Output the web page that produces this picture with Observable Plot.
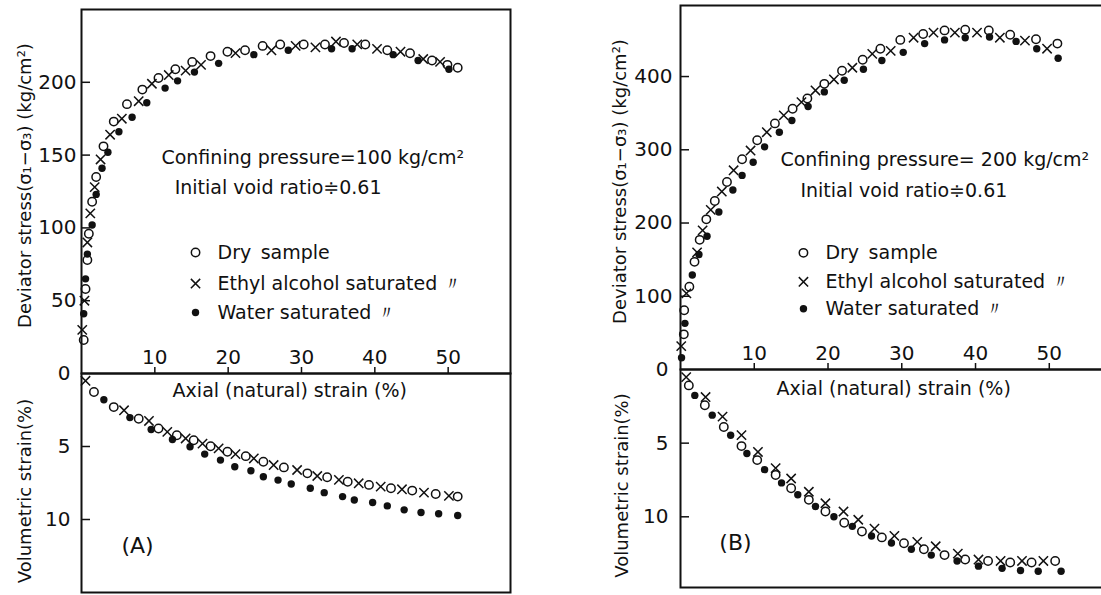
<!DOCTYPE html>
<html><head><meta charset="utf-8">
<script src="https://cdn.jsdelivr.net/npm/d3@7"></script>
<script src="https://cdn.jsdelivr.net/npm/@observablehq/plot@0.6"></script>
<style>
html,body{margin:0;padding:0;background:#fff;overflow:hidden;width:1101px;height:595px;}
#root{position:relative;width:1101px;height:595px;overflow:hidden;background:#fff;}
.sub{position:absolute;}
.sub svg{max-width:none !important;}
</style></head><body><div id="root"></div>
<script>
// ---------- data (axial strain %, value) ----------
// Panel A : confining pressure 100 kg/cm2
const aStressDry = [[0.3,23],[0.55,58],[0.8,78],[1.0,96],[1.45,118],[2.0,135],[3.0,156],[4.4,173],[6.2,185],[8.3,195],[10.5,203],[12.8,209],[15.1,214],[17.6,218],[19.9,221],[22.3,222],[24.7,225],[27.1,226],[30.3,226],[33.2,226],[35.8,227],[38.7,226],[41.7,222],[44.8,220],[47.8,215],[49.9,212],[51.3,210]];
const aStressEthyl = [[0.1,30],[0.4,50],[0.8,90],[1.2,110],[1.8,128],[2.6,147],[3.9,164],[5.5,175],[7.8,187],[9.6,199],[11.9,205],[14.2,208],[16.3,212],[21.0,220],[25.9,222],[29.2,225],[31.9,224],[34.7,228],[37.6,226],[40.3,223],[43.5,221],[46.6,216],[48.9,214]];
const aStressWater = [[0.3,41],[0.55,65],[0.8,82],[1.45,102],[2.0,123],[2.8,141],[3.6,152],[5.1,166],[6.9,176],[8.9,186],[11.4,196],[13.1,201],[15.4,207],[18.7,213],[23.5,219],[28.2,222],[34.1,223],[36.9,223],[42.5,219],[45.9,215],[50.1,209]];
const aVolDry = [[1.7,1.27],[4.4,2.3],[7.8,3.1],[10.5,3.77],[13.0,4.23],[15.3,4.57],[17.6,4.98],[19.9,5.36],[22.4,5.66],[24.8,6.04],[27.6,6.43],[30.8,6.84],[33.5,7.11],[36.3,7.41],[39.2,7.63],[42.2,7.86],[45.1,8.02],[48.3,8.25],[51.3,8.43]];
const aVolEthyl = [[0.55,0.5],[5.8,2.52],[9.2,3.25],[11.7,4.0],[14.2,4.45],[16.5,4.8],[18.7,5.13],[21.0,5.52],[23.5,5.82],[26.2,6.27],[29.4,6.61],[32.15,7.02],[35.1,7.29],[37.8,7.52],[40.8,7.75],[43.7,7.93],[46.7,8.16],[50.1,8.38]];
const aVolWater = [[3.05,1.8],[6.6,3.02],[9.5,3.84],[12.4,4.52],[14.8,5.02],[16.8,5.52],[18.95,5.93],[20.9,6.39],[23.1,6.66],[24.8,7.07],[26.8,7.3],[28.6,7.57],[31.2,7.86],[33.1,8.16],[35.6,8.43],[37.2,8.66],[39.7,8.84],[41.7,9.07],[44.0,9.34],[46.3,9.52],[48.7,9.61],[51.3,9.73]];
// Panel B : confining pressure 200 kg/cm2
const bStressDry = [[0.45,48],[0.5,81],[1.2,113],[1.9,147],[2.6,177],[3.5,205],[4.65,230],[6.3,256],[8.35,287],[10.4,313],[12.8,336],[15.2,356],[17.2,370],[19.5,390],[21.9,408],[24.7,423],[27.1,438],[29.8,450],[32.9,458],[35.8,463],[38.6,464],[41.8,463],[44.7,457],[48.2,451],[51.1,445]];
const bStressEthyl = [[0.1,32],[0.8,104],[2.25,160],[3.0,190],[4.1,218],[5.6,243],[7.2,272],[9.5,299],[11.7,324],[14.0,347],[16.4,365],[18.3,381],[20.8,396],[23.3,412],[26.0,431],[28.5,435],[31.6,453],[34.3,460],[37.2,460],[40.2,460],[43.3,453],[46.7,449],[49.7,438]];
const bStressWater = [[0.14,16],[0.6,63],[1.6,129],[2.5,157],[3.6,182],[5.2,215],[7.1,245],[8.35,265],[9.85,283],[11.4,304],[13.4,324],[15.1,340],[17.3,359],[19.5,379],[22.2,395],[24.8,410],[27.3,422],[30.2,433],[33.1,445],[35.8,450],[38.6,453],[41.9,454],[45.5,448],[48.3,438],[51.2,425]];
const bVolDry = [[1.13,1.08],[3.3,2.43],[5.87,3.9],[8.27,5.2],[10.4,6.15],[12.9,7.16],[15.0,8.06],[17.4,8.85],[19.65,9.64],[22.2,10.4],[24.6,11.0],[27.3,11.4],[30.3,11.8],[33.0,12.2],[35.8,12.6],[38.6,12.9],[41.7,13.0],[44.7,13.1],[47.6,13.1],[50.8,13.0]];
const bVolEthyl = [[0.77,0.52],[3.4,1.87],[5.7,3.2],[8.27,4.46],[10.5,5.6],[12.9,6.7],[15.0,7.4],[17.4,8.3],[19.65,9.08],[22.1,9.64],[24.1,10.2],[26.3,10.8],[29.0,11.3],[32.1,11.7],[34.6,12.0],[37.6,12.5],[40.4,12.9],[43.4,13.0],[46.3,13.0],[49.2,13.0]];
const bVolWater = [[1.94,1.76],[4.3,3.1],[6.8,4.46],[9.0,5.7],[11.4,6.8],[13.7,7.7],[15.9,8.5],[18.3,9.3],[20.8,10.0],[23.3,10.65],[25.9,11.3],[28.6,11.78],[31.3,12.2],[34.0,12.6],[37.5,13.0],[40.4,13.35],[43.6,13.5],[46.1,13.65],[48.5,13.7],[51.6,13.7]];

// ---------- tick values & labels ----------
const xTicks = [10, 20, 30, 40, 50];
const aStressTicks = [50, 100, 150, 200];
const bStressTicks = [100, 200, 300, 400];
const volTicks = [0, 5, 10];
const stressLabel = "Deviator stress(σ₁−σ₃) (kg/cm²)";
const volLabel = "Volumetric strain(%)";
const xLabel = "Axial (natural) strain (%)";
const legendLabels = ["Dry\u2002sample", "Ethyl alcohol saturated 〃", "Water saturated 〃"];
const aNotes = ["Confining pressure=100 kg/cm²", "Initial void ratio≑0.61"];
const bNotes = ["Confining pressure= 200 kg/cm²", "Initial void ratio≑0.61"];

// ---------- drawing ----------
const FONT = "'DejaVu Sans', sans-serif";
const INK = "#111";
const root = document.getElementById("root");

function place(node, left, top, width, height) {
  const d = document.createElement("div");
  d.className = "sub";
  d.style.left = left + "px";
  d.style.top = top + "px";
  d.style.width = width + "px";
  d.style.height = height + "px";
  d.appendChild(node);
  root.appendChild(d);
}

const X = d => d[0], Y = d => d[1];
function seriesMarks(dry, ethyl, water) {
  return [
    Plot.dot(water, {x: X, y: Y, r: 3.7, fill: INK, stroke: "none"}),
    Plot.dot(dry, {x: X, y: Y, r: 4.2, fill: "none", stroke: INK, strokeWidth: 1.5}),
    Plot.dot(ethyl, {x: X, y: Y, r: 4.3, symbol: "times", stroke: INK, strokeWidth: 1.5})
  ];
}

function upper(cfg) {
  const m = [
    Plot.frame({stroke: INK, strokeWidth: 2}),
    Plot.ruleY(cfg.yTicks, {y: d => d, x1: 0, x2: 0, insetRight: -9, stroke: INK, strokeWidth: 1.5}),
    Plot.text(cfg.yTicks, {y: d => d, x: 0, dx: -cfg.pad, textAnchor: "end", text: d => `${d}`, fontSize: 20, fill: INK}),
    Plot.ruleX(xTicks, {x: d => d, y1: 0, y2: 0, insetBottom: 6, stroke: INK, strokeWidth: 1.5}),
    Plot.text(xTicks, {x: d => d, y: 0, dy: -16, text: d => `${d}`, fontSize: 20, fill: INK}),
    Plot.text([stressLabel], {frameAnchor: "left", textAnchor: "middle", dx: cfg.labelDx, dy: cfg.labelDy, rotate: -90, text: d => d, fontSize: 18, fill: INK}),
    Plot.text([cfg.notes[0]], {x: cfg.note1[0], y: cfg.note1[1], text: d => d, textAnchor: "start", fontSize: 19, fill: INK}),
    Plot.text([cfg.notes[1]], {x: cfg.note2[0], y: cfg.note2[1], text: d => d, textAnchor: "start", fontSize: 19, fill: INK}),
    Plot.text(legendLabels, {x: cfg.legText, y: (d, i) => cfg.legRows[i], text: d => d, textAnchor: "start", fontSize: 19, fill: INK}),
    Plot.dot([0], {x: cfg.legMark, y: cfg.legRows[0], r: 4.2, fill: "none", stroke: INK, strokeWidth: 1.5}),
    Plot.dot([0], {x: cfg.legMark, y: cfg.legRows[1], r: 4.3, symbol: "times", stroke: INK, strokeWidth: 1.5}),
    Plot.dot([0], {x: cfg.legMark, y: cfg.legRows[2], r: 3.7, fill: INK}),
    ...seriesMarks(cfg.dry, cfg.ethyl, cfg.water)
  ];
  return Plot.plot({
    width: cfg.width, height: cfg.height,
    marginLeft: cfg.mL, marginRight: cfg.mR, marginTop: cfg.mT, marginBottom: cfg.mB,
    x: {domain: cfg.xDomain, axis: null},
    y: {domain: cfg.yDomain, axis: null},
    style: {fontFamily: FONT, background: "transparent", overflow: "visible", color: INK, maxWidth: "none"},
    marks: m
  });
}

function lower(cfg) {
  const m = [
    Plot.frame({stroke: INK, strokeWidth: 2}),
    Plot.ruleY(volTicks.filter(t => t > 0), {y: d => d, x1: 0, x2: 0, insetRight: -9, stroke: INK, strokeWidth: 1.5}),
    Plot.text(volTicks, {y: d => d, x: 0, dx: -cfg.pad, textAnchor: "end", text: d => `${d}`, fontSize: 20, fill: INK}),
    Plot.text([volLabel], {frameAnchor: "left", textAnchor: "middle", dx: cfg.labelDx, dy: cfg.labelDy, rotate: -90, text: d => d, fontSize: 18, fill: INK}),
    Plot.text([xLabel], {x: cfg.xLab[0], y: cfg.xLab[1], text: d => d, fontSize: 19, fill: INK}),
    Plot.text([cfg.tag], {x: cfg.tagPos[0], y: cfg.tagPos[1], text: d => d, fontSize: 22, fill: INK}),
    ...seriesMarks(cfg.dry, cfg.ethyl, cfg.water)
  ];
  return Plot.plot({
    width: cfg.width, height: cfg.height,
    marginLeft: cfg.mL, marginRight: cfg.mR, marginTop: cfg.mT, marginBottom: cfg.mB,
    x: {domain: cfg.xDomain, axis: null},
    y: {domain: cfg.yDomain, reverse: true, axis: null},
    style: {fontFamily: FONT, background: "transparent", overflow: "visible", color: INK, maxWidth: "none"},
    marks: m
  });
}

// Panel A
place(upper({
  width: 520, height: 374, mL: 81, mR: 10, mT: 9, mB: 1,
  xDomain: [0, 58.5], yDomain: [0, 250], yTicks: aStressTicks, pad: 5,
  labelDx: -56, labelDy: -6,
  notes: aNotes, note1: [10.9, 148.4], note2: [12.7, 127.7],
  legMark: 15.55, legText: 18.55, legRows: [83.1, 61.8, 41.9],
  dry: aStressDry, ethyl: aStressEthyl, water: aStressWater
}), 0, 0, 520, 374);
place(lower({
  width: 520, height: 222, mL: 81, mR: 10, mT: 0, mB: 3,
  xDomain: [0, 58.5], yDomain: [0, 15], pad: 11,
  labelDx: -56, labelDy: 8,
  xLab: [28.4, 1.16], tag: "(A)", tagPos: [7.64, 11.8],
  dry: aVolDry, ethyl: aVolEthyl, water: aVolWater
}), 0, 373, 520, 222);

// Panel B
place(upper({
  width: 530, height: 370, mL: 90, mR: 10, mT: 5, mB: 1,
  xDomain: [0, 58.3], yDomain: [0, 497], yTicks: bStressTicks, pad: 8,
  labelDx: -60, labelDy: -6,
  notes: bNotes, note1: [13.55, 286], note2: [16.26, 243.7],
  legMark: 16.67, legText: 19.65, legRows: [159.3, 119.8, 83],
  dry: bStressDry, ethyl: bStressEthyl, water: bStressWater
}), 590, 0, 530, 370);
place(lower({
  width: 530, height: 226, mL: 90, mR: 10, mT: 0, mB: 8,
  xDomain: [0, 58.3], yDomain: [0, 14.8], pad: 12,
  labelDx: -58, labelDy: 7,
  xLab: [28.9, 1.29], tag: "(B)", tagPos: [7.45, 11.8],
  dry: bVolDry, ethyl: bVolEthyl, water: bVolWater
}), 590, 369, 530, 226);
</script></body></html>
